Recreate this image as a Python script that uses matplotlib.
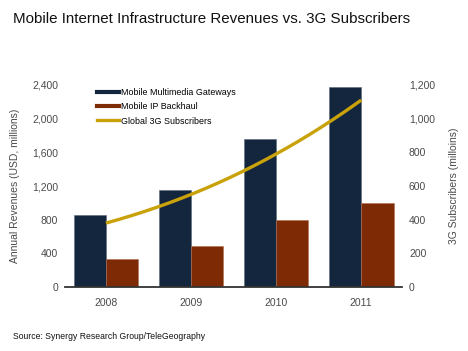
import numpy as np
import matplotlib
matplotlib.use('Agg')
import matplotlib.pyplot as plt
from matplotlib.lines import Line2D

plt.rcParams['font.family'] = ['Liberation Sans', 'DejaVu Sans']

years = ['2008', '2009', '2010', '2011']
gateways = [860, 1150, 1760, 2370]      # Mobile Multimedia Gateways (USD m)
backhaul = [330, 490, 800, 1000]        # Mobile IP Backhaul (USD m)
subscribers = [380, 550, 790, 1110]     # Global 3G Subscribers (millions)

navy = '#14263d'
brown = '#7e2a05'
gold = '#c9a20a'
gray = '#4a4a4a'

fig = plt.figure(figsize=(4.68, 3.51), dpi=100)
ax = fig.add_axes([0.139, 0.182, 0.72, 0.576])
x = np.arange(len(years))
w = 0.38
ax.bar(x - w / 2, gateways, w, color=navy, edgecolor='#5a6778', linewidth=0.4, zorder=2)
ax.bar(x + w / 2, backhaul, w, color=brown, edgecolor='#b07050', linewidth=0.4, zorder=2)
ax.set_xlim(-0.48, 3.48)
ax.set_ylim(0, 2400)
ax.set_yticks(range(0, 2401, 400))
ax.set_yticklabels([f'{v:,}' for v in range(0, 2401, 400)])
ax.set_xticks(x)
ax.set_xticklabels(years)
for s in ['top', 'left', 'right']:
    ax.spines[s].set_visible(False)
ax.spines['bottom'].set_color('#333333')
ax.spines['bottom'].set_linewidth(1.3)
ax.tick_params(length=0, labelsize=7.5, labelcolor=gray, pad=5)
ax.tick_params(axis='x', pad=8)
ax.set_ylabel('Annual Revenues (USD, millions)', fontsize=7.5, color=gray)
ax.yaxis.set_label_coords(-0.135, 0.5)

ax2 = ax.twinx()
# smooth curve through the four points
xs = np.linspace(0, 3, 200)
coef = np.polyfit(x, subscribers, 3)
ax2.plot(xs, np.polyval(coef, xs), color=gold, lw=2.4, solid_capstyle='butt', zorder=3)
ax2.set_ylim(0, 1200)
ax2.set_yticks(range(0, 1201, 200))
ax2.set_yticklabels([f'{v:,}' for v in range(0, 1201, 200)])
for s in ['top', 'left', 'right', 'bottom']:
    ax2.spines[s].set_visible(False)
ax2.tick_params(length=0, labelsize=7.5, labelcolor=gray, pad=5)
ax2.set_ylabel('3G Subscribers (milloins)', fontsize=7.5, color=gray)
ax2.yaxis.set_label_coords(1.14, 0.5)

handles = [Line2D([], [], color=navy, lw=3),
           Line2D([], [], color=brown, lw=3),
           Line2D([], [], color=gold, lw=2.4)]
ax2.legend(handles, ['Mobile Multimedia Gateways', 'Mobile IP Backhaul', 'Global 3G Subscribers'],
           loc='upper left', bbox_to_anchor=(0.07, 1.025), frameon=False, fontsize=6.4,
           handlelength=2.5, handletextpad=0.2, labelspacing=0.6)

fig.text(0.028, 0.935, 'Mobile Internet Infrastructure Revenues vs. 3G Subscribers',
         fontsize=10.9, color='#111111')
fig.text(0.028, 0.035, 'Source: Synergy Research Group/TeleGeography', fontsize=6.2, color='#111111')

fig.savefig('out.png', dpi=100)
